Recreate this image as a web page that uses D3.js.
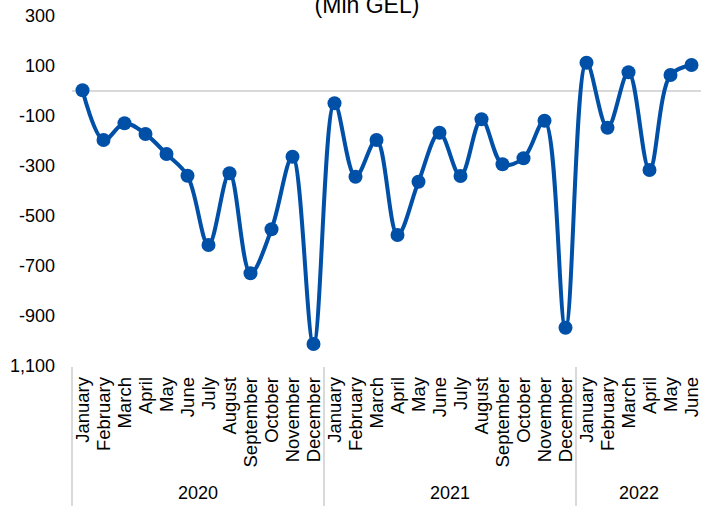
<!DOCTYPE html>
<html>
<head>
<meta charset="utf-8">
<script src="https://cdn.jsdelivr.net/npm/d3@7"></script>
<style>
  html, body { margin: 0; padding: 0; background: #fff; }
  svg { display: block; font-family: "Liberation Sans", Arial, sans-serif; }
</style>
</head>
<body>
<svg id="chart" width="701" height="506"></svg>
<script>
const years = ["2020", "2021", "2022"];
const monthNames = ["January","February","March","April","May","June","July","August","September","October","November","December"];
const monthsPerYear = [12, 12, 6];
const values = [
  3, -196, -129, -172, -252, -339, -616, -329, -729, -553, -263, -1012,
  -49, -343, -196, -576, -363, -167, -340, -113, -293, -269, -119, -947,
  113, -147, 75, -316, 64, 104
];
const yTickValues = [300, 100, -100, -300, -500, -700, -900, -1100];
const yTickLabels = ["300", "100", "-100", "-300", "-500", "-700", "-900", "1,100"];
const title = "(Mln GEL)";

(function () {
  const categories = [];
  years.forEach((yr, yi) => {
    for (let m = 0; m < monthsPerYear[yi]; m++) categories.push({ key: yr + "-" + m, year: yr, month: monthNames[m] });
  });
  const data = categories.map((c, i) => ({ ...c, value: values[i] }));

  const svg = d3.select("#chart");
  const mLeft = 72, mRight = 702, mTop = 16, mBottom = 366;

  const x = d3.scaleBand().domain(categories.map(d => d.key)).range([mLeft, mRight]).padding(0);
  const y = d3.scaleLinear().domain([-1100, 300]).range([mBottom, mTop]);

  // title (cut off at top, as in the reference)
  svg.append("text")
    .attr("x", 367).attr("y", 13)
    .attr("text-anchor", "middle")
    .attr("font-size", 23)
    .attr("fill", "#000")
    .text(title);

  // y axis labels
  const yAxis = d3.axisLeft(y).tickValues(yTickValues).tickFormat((d, i) => yTickLabels[i]).tickSize(0).tickPadding(0);
  const gy = svg.append("g").attr("transform", "translate(55,0)").call(yAxis);
  gy.select(".domain").remove();
  gy.selectAll("text").attr("font-size", 18).attr("fill", "#000").attr("font-family", "Liberation Sans, Arial, sans-serif");

  // zero line (horizontal axis)
  svg.append("line")
    .attr("x1", mLeft).attr("x2", mRight)
    .attr("y1", y(0)).attr("y2", y(0))
    .attr("stroke", "#d9d9d9").attr("stroke-width", 2);

  // x axis month labels
  const xAxis = d3.axisBottom(x).tickSize(0).tickFormat(k => categories.find(c => c.key === k).month);
  const gx = svg.append("g").attr("transform", `translate(0,${mBottom})`).call(xAxis);
  gx.select(".domain").remove();
  gx.selectAll("text")
    .attr("font-size", 18.5)
    .attr("fill", "#000")
    .attr("font-family", "Liberation Sans, Arial, sans-serif")
    .attr("transform", "rotate(-90)")
    .attr("x", -11).attr("y", 0).attr("dy", "0.35em")
    .attr("text-anchor", "end");

  // year separators and labels
  let idx = 0;
  const sepXs = [];
  years.forEach((yr, yi) => {
    const first = categories[idx].key;
    const last = categories[idx + monthsPerYear[yi] - 1].key;
    const x0 = x(first), x1 = x(last) + x.bandwidth();
    sepXs.push(x0);
    if (yi === years.length - 1) sepXs.push(x1);
    svg.append("text")
      .attr("x", (x0 + x1) / 2).attr("y", 499)
      .attr("text-anchor", "middle")
      .attr("font-size", 18)
      .attr("fill", "#000")
      .text(yr);
    idx += monthsPerYear[yi];
  });
  svg.selectAll("line.sep").data(sepXs).enter().append("line")
    .attr("class", "sep")
    .attr("x1", d => d).attr("x2", d => d)
    .attr("y1", 367).attr("y2", 506)
    .attr("stroke", "#d9d9d9").attr("stroke-width", 2);

  // line
  const color = "#0050A8";
  const line = d3.line()
    .x(d => x(d.key) + x.bandwidth() / 2)
    .y(d => y(d.value))
    .curve(d3.curveCatmullRom.alpha(0.5));
  svg.append("path").datum(data)
    .attr("d", line)
    .attr("fill", "none")
    .attr("stroke", color)
    .attr("stroke-width", 4)
    .attr("stroke-linejoin", "round");

  svg.selectAll("circle.pt").data(data).enter().append("circle")
    .attr("class", "pt")
    .attr("cx", d => x(d.key) + x.bandwidth() / 2)
    .attr("cy", d => y(d.value))
    .attr("r", 7)
    .attr("fill", color);
})();
</script>
</body>
</html>
